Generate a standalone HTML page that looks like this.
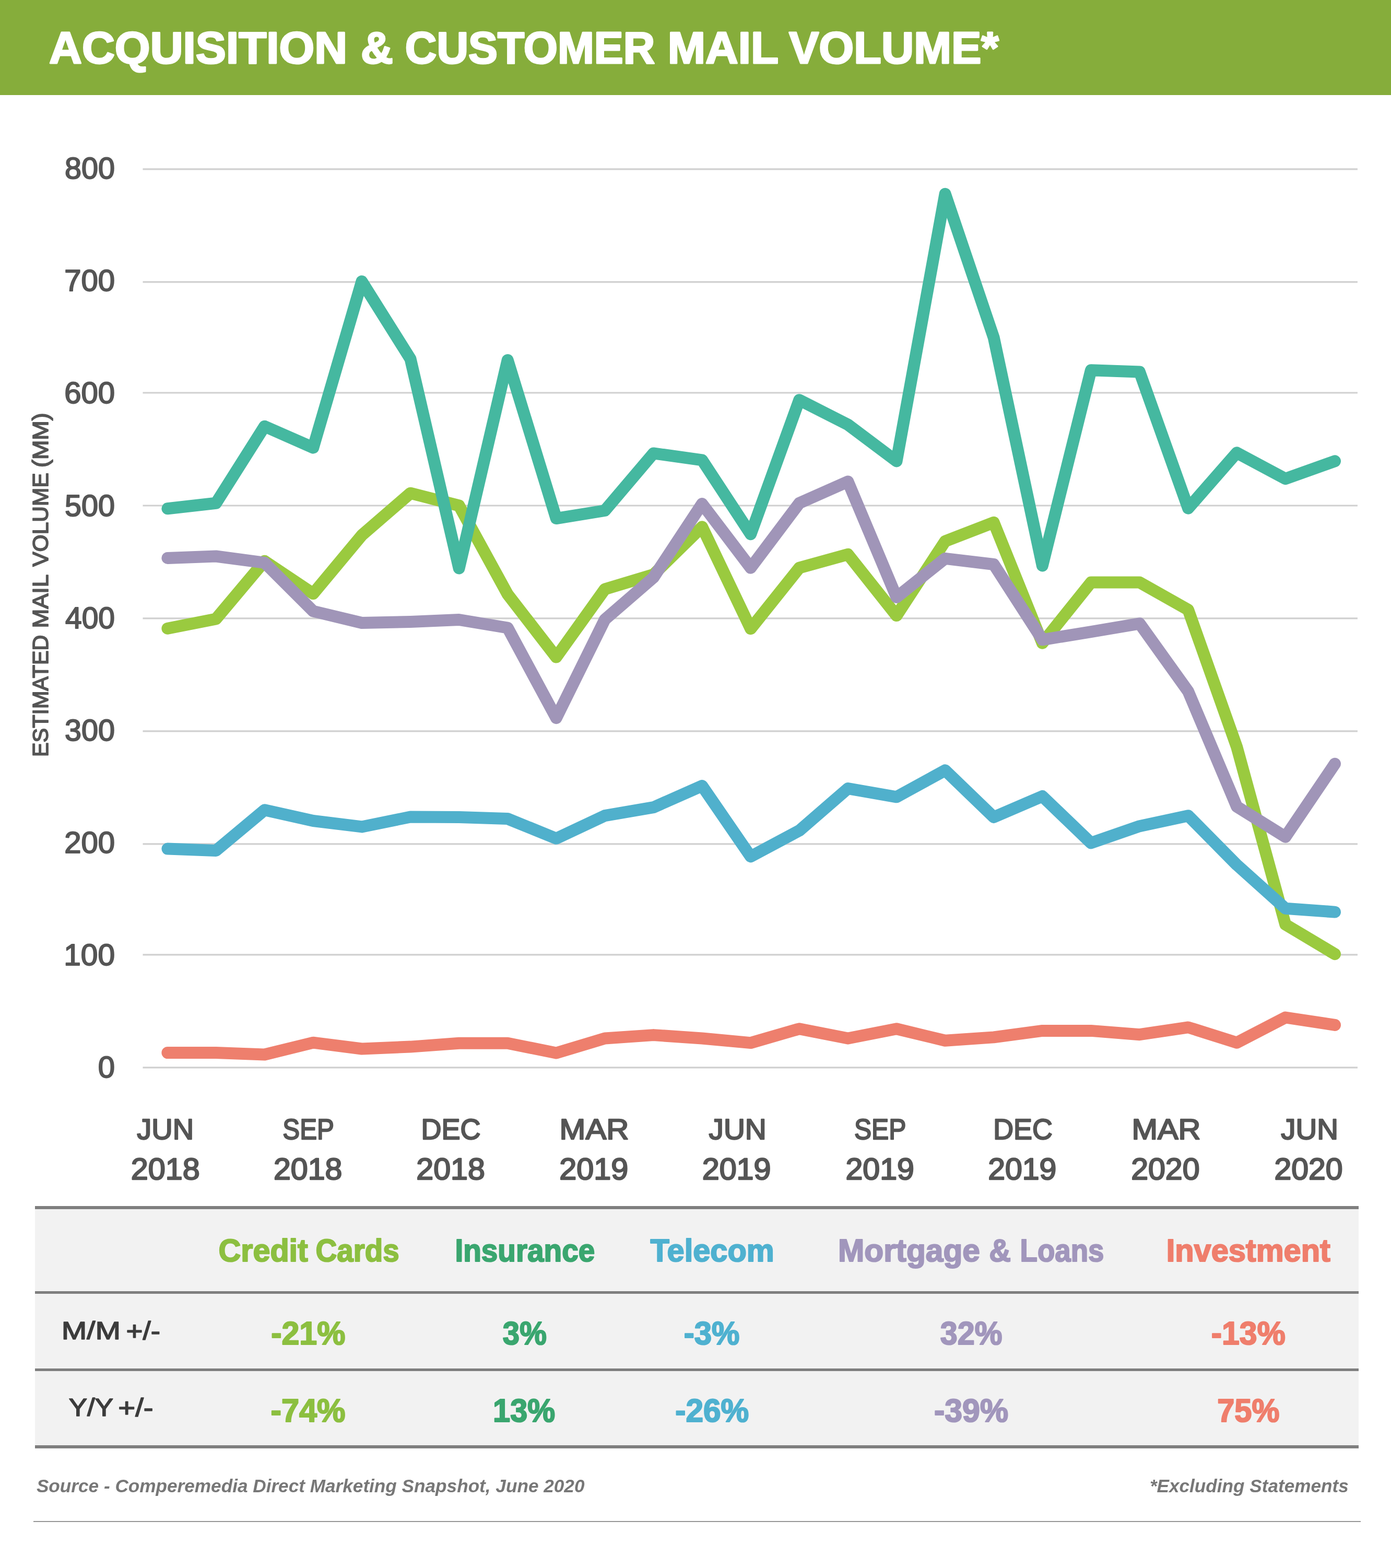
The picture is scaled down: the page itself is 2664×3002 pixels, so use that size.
<!DOCTYPE html>
<html lang="en"><head><meta charset="utf-8">
<meta name="viewport" content="width=2664">
<title>Acquisition &amp; Customer Mail Volume</title>
<style>
html,body{margin:0;padding:0;background:#fff}
body{width:2664px;height:3002px;position:relative;overflow:hidden;font-family:"Liberation Sans", sans-serif;font-weight:bold}
svg{position:absolute;left:0;top:0;overflow:visible}
svg text{font-family:"Liberation Sans", sans-serif;font-weight:bold;white-space:pre}
header{position:absolute;left:0;top:0;width:2664px;height:182px;background:#86ad3b}
#chart{position:absolute;left:0;top:0;width:2664px;height:2300px}
.ln{fill:none;stroke-width:23;stroke-linejoin:round;stroke-linecap:round}
.grid line{stroke:#d0d0d0;stroke-width:3.2}
#tbl{position:absolute;left:66.6px;top:2309px;width:2535.8px;height:463px;background:linear-gradient(#f2f2f2,#f2f2f2) 0 2px/100% 460px no-repeat}
#tbl .rule{position:absolute;left:0;width:100%;height:5.4px;background:#7f7f7f}
#tbl svg{left:-67px;top:-2309px}
footer{position:absolute;left:0;top:2780px;width:2664px;height:222px}
footer svg{top:-2780px}
footer .rule{position:absolute;left:64px;top:131.8px;width:2541.8px;height:2px;background:#969696}

header text{fill:#fff;stroke:#fff;stroke-width:3.0px;stroke-linejoin:round;}
.ylab text{fill:#555;font-weight:normal;stroke:#555;stroke-width:2.0px;stroke-linejoin:round;}
.xlab text{fill:#555;font-weight:normal;stroke:#555;stroke-width:2.4px;stroke-linejoin:round;}
.ytitle text{fill:#555;font-weight:normal;stroke:#555;stroke-width:1.8px;stroke-linejoin:round;}
.th text{fill:#8cbf40;stroke:#8cbf40;stroke-width:2.2px;stroke-linejoin:round;}
.rl text{fill:#3c3c3c;font-weight:normal;stroke:#3c3c3c;stroke-width:1.6px;stroke-linejoin:round;}
.td text{fill:#8cbf40;stroke:#8cbf40;stroke-width:2.2px;stroke-linejoin:round;}
footer text{fill:#777;font-style:italic;}
svg text.c0{fill:#8cbf40;stroke:#8cbf40}
svg text.c1{fill:#3aa66f;stroke:#3aa66f}
svg text.c2{fill:#4fb1d0;stroke:#4fb1d0}
svg text.c3{fill:#a196bc;stroke:#a196bc}
svg text.c4{fill:#ef7e6c;stroke:#ef7e6c}
</style></head><body>
<header role="banner" aria-label="ACQUISITION &amp; CUSTOMER MAIL VOLUME*">
<svg width="2664" height="3002" viewBox="0 0 2664 3002">
<text font-size="84.88" transform="translate(93.98 120.60) scale(1.0269 1)">ACQUISITION</text>
<text font-size="84.88" transform="translate(690.94 120.60) scale(1.0095 1)">&amp;</text>
<text font-size="84.88" transform="translate(775.86 120.60) scale(0.9886 1)">CUSTOMER</text>
<text font-size="84.88" transform="translate(1278.70 120.60) scale(1.0241 1)">MAIL</text>
<text font-size="84.88" transform="translate(1510.92 120.60) scale(1.0148 1)">VOLUME*</text>
</svg></header>
<section id="chart">
<svg width="2664" height="3002" viewBox="0 0 2664 3002">
<g class="grid">
<line x1="273.5" x2="2599.9" y1="2043.90" y2="2043.90"/>
<line x1="273.5" x2="2599.9" y1="1827.90" y2="1827.90"/>
<line x1="273.5" x2="2599.9" y1="1615.80" y2="1615.80"/>
<line x1="273.5" x2="2599.9" y1="1399.80" y2="1399.80"/>
<line x1="273.5" x2="2599.9" y1="1183.90" y2="1183.90"/>
<line x1="273.5" x2="2599.9" y1="968.00" y2="968.00"/>
<line x1="273.5" x2="2599.9" y1="752.00" y2="752.00"/>
<line x1="273.5" x2="2599.9" y1="539.90" y2="539.90"/>
<line x1="273.5" x2="2599.9" y1="323.90" y2="323.90"/>
</g>
<g class="series">
<polyline class="ln" stroke="#9aca3f" points="320.9,1203.2 413.6,1185.0 506.7,1074.2 599.8,1136.6 692.9,1024.8 786.0,944.2 879.1,968.0 972.2,1137.7 1065.3,1258.1 1158.4,1128.0 1251.5,1100.1 1344.6,1008.7 1437.7,1203.7 1530.8,1087.2 1623.9,1061.4 1717.0,1178.6 1810.1,1036.2 1903.2,1000.3 1996.3,1231.2 2089.4,1115.1 2182.5,1115.1 2275.6,1167.6 2368.7,1430.1 2461.8,1770.0 2556.5,1826.6"><title>Credit Cards</title></polyline>
<polyline class="ln" stroke="#45b8a0" points="320.9,973.8 413.6,963.3 506.7,816.2 599.8,857.1 692.9,538.9 786.0,687.2 879.1,1088.0 972.2,689.4 1065.3,992.6 1158.4,977.5 1251.5,867.9 1344.6,880.8 1437.7,1022.7 1530.8,765.7 1623.9,813.0 1717.0,882.9 1810.1,371.2 1903.2,646.4 1996.3,1082.9 2089.4,708.8 2182.5,712.0 2275.6,973.2 2368.7,866.8 2461.8,916.7 2556.5,882.9"><title>Insurance</title></polyline>
<polyline class="ln" stroke="#50b0cc" points="320.9,1625.1 413.6,1628.5 506.7,1550.7 599.8,1571.5 692.9,1582.9 786.0,1564.0 879.1,1564.5 972.2,1567.5 1065.3,1605.3 1158.4,1561.7 1251.5,1545.7 1344.6,1504.5 1437.7,1639.9 1530.8,1590.2 1623.9,1509.6 1717.0,1525.8 1810.1,1474.8 1903.2,1564.5 1996.3,1524.5 2089.4,1613.9 2182.5,1581.7 2275.6,1561.7 2368.7,1655.8 2461.8,1739.2 2556.5,1746.1"><title>Telecom</title></polyline>
<polyline class="ln" stroke="#a095b8" points="320.9,1068.4 413.6,1065.0 506.7,1077.3 599.8,1170.1 692.9,1192.5 786.0,1190.4 879.1,1186.5 972.2,1202.0 1065.3,1374.6 1158.4,1186.1 1251.5,1105.6 1344.6,964.6 1437.7,1087.2 1530.8,963.3 1623.9,922.0 1717.0,1143.4 1810.1,1069.3 1903.2,1080.5 1996.3,1224.8 2089.4,1209.7 2182.5,1193.8 2275.6,1323.7 2368.7,1544.2 2461.8,1602.3 2556.5,1462.3"><title>Mortgage &amp; Loans</title></polyline>
<polyline class="ln" stroke="#ee7f6d" points="320.9,2015.5 413.6,2015.5 506.7,2019.0 599.8,1996.2 692.9,2008.0 786.0,2004.1 879.1,1997.2 972.2,1997.2 1065.3,2016.0 1158.4,1988.0 1251.5,1981.6 1344.6,1988.0 1437.7,1996.6 1530.8,1969.7 1623.9,1988.0 1717.0,1969.7 1810.1,1992.3 1903.2,1985.9 1996.3,1973.4 2089.4,1973.4 2182.5,1980.7 2275.6,1966.9 2368.7,1996.2 2461.8,1948.0 2556.5,1962.4"><title>Investment</title></polyline>
</g>
<g class="ytitle">
<text font-size="42.44" transform="translate(92.40 1448.95) rotate(-90) scale(0.9741 1)">ESTIMATED</text>
<text font-size="42.44" transform="translate(92.40 1202.51) rotate(-90) scale(1.0385 1)">MAIL</text>
<text font-size="42.44" transform="translate(92.40 1084.80) rotate(-90) scale(1.0025 1)">VOLUME</text>
<text font-size="42.44" transform="translate(92.40 894.95) rotate(-90) scale(1.0570 1)">(MM)</text>
</g>
<g class="ylab">
<text font-size="57.27" transform="translate(187.80 2063.30) scale(1.0120 1)">0</text>
<text font-size="57.27" transform="translate(122.26 1848.15) scale(1.0233 1)">100</text>
<text font-size="57.27" transform="translate(123.19 1633.00) scale(1.0135 1)">200</text>
<text font-size="57.27" transform="translate(124.11 1417.85) scale(1.0039 1)">300</text>
<text font-size="57.27" transform="translate(125.00 1202.70) scale(0.9945 1)">400</text>
<text font-size="57.27" transform="translate(124.11 987.55) scale(1.0039 1)">500</text>
<text font-size="57.27" transform="translate(123.19 772.40) scale(1.0135 1)">600</text>
<text font-size="57.27" transform="translate(123.19 557.25) scale(1.0135 1)">700</text>
<text font-size="57.27" transform="translate(124.11 342.10) scale(1.0039 1)">800</text>
</g>
<g class="xlab">
<text font-size="56.10" transform="translate(262.32 2180.50) scale(0.9987 1)">JUN</text>
<text font-size="57.56" transform="translate(250.76 2258.40) scale(1.0302 1)">2018</text>
<text font-size="56.10" transform="translate(541.31 2180.50) scale(0.8774 1)">SEP</text>
<text font-size="57.56" transform="translate(523.96 2258.40) scale(1.0262 1)">2018</text>
<text font-size="56.10" transform="translate(806.44 2180.50) scale(0.9622 1)">DEC</text>
<text font-size="57.56" transform="translate(797.36 2258.40) scale(1.0270 1)">2018</text>
<text font-size="56.10" transform="translate(1071.61 2180.50) scale(1.0659 1)">MAR</text>
<text font-size="57.56" transform="translate(1071.26 2258.40) scale(1.0302 1)">2019</text>
<text font-size="56.10" transform="translate(1357.53 2180.50) scale(1.0110 1)">JUN</text>
<text font-size="57.56" transform="translate(1344.66 2258.40) scale(1.0302 1)">2019</text>
<text font-size="56.10" transform="translate(1635.91 2180.50) scale(0.8855 1)">SEP</text>
<text font-size="57.56" transform="translate(1619.46 2258.40) scale(1.0262 1)">2019</text>
<text font-size="56.10" transform="translate(1902.25 2180.50) scale(0.9587 1)">DEC</text>
<text font-size="57.56" transform="translate(1892.27 2258.40) scale(1.0230 1)">2019</text>
<text font-size="56.10" transform="translate(2167.43 2180.50) scale(1.0593 1)">MAR</text>
<text font-size="57.56" transform="translate(2166.16 2258.40) scale(1.0260 1)">2020</text>
<text font-size="56.10" transform="translate(2453.33 2180.50) scale(1.0063 1)">JUN</text>
<text font-size="57.56" transform="translate(2440.47 2258.40) scale(1.0229 1)">2020</text>
</g>
</svg>
</section>
<section id="tbl">
<div class="rule" style="top:0.2px"></div>
<div class="rule" style="top:162.9px"></div>
<div class="rule" style="top:310.6px"></div>
<div class="rule" style="top:458.4px"></div>
<svg width="2664" height="3002" viewBox="0 0 2664 3002">
<g class="th">
<text class="c0" font-size="60.86" transform="translate(418.52 2415.30) scale(0.9742 1)">Credit</text>
<text class="c0" font-size="60.86" transform="translate(604.56 2415.30) scale(0.9287 1)">Cards</text>
<text class="c1" font-size="60.86" transform="translate(871.48 2415.30) scale(0.9311 1)">Insurance</text>
<text class="c2" font-size="60.86" transform="translate(1245.58 2415.30) scale(0.9785 1)">Telecom</text>
<text class="c3" font-size="60.86" transform="translate(1605.01 2415.30) scale(0.9931 1)">Mortgage</text>
<text class="c3" font-size="60.86" transform="translate(1894.24 2415.30) scale(0.9515 1)">&amp;</text>
<text class="c3" font-size="60.86" transform="translate(1953.57 2415.30) scale(0.8975 1)">Loans</text>
<text class="c4" font-size="60.86" transform="translate(2233.65 2415.30) scale(0.9784 1)">Investment</text>
</g>
<g class="rl">
<text font-size="48.40" transform="translate(117.71 2563.70) scale(1.2049 1)">M/M</text>
<text font-size="49.70" transform="translate(241.61 2564.50) scale(1.1028 1)">+/-</text>
<text font-size="47.97" transform="translate(131.76 2711.00) scale(1.1024 1)">Y/Y</text>
<text font-size="49.70" transform="translate(226.26 2711.80) scale(1.1344 1)">+/-</text>
</g>
<g class="td">
<text class="c0" font-size="62.75" transform="translate(519.16 2573.50) scale(0.9709 1)">-21%</text>
<text class="c1" font-size="62.75" transform="translate(962.81 2573.50) scale(0.9261 1)">3%</text>
<text class="c2" font-size="62.75" transform="translate(1309.68 2573.50) scale(0.9573 1)">-3%</text>
<text class="c3" font-size="62.75" transform="translate(1800.81 2573.50) scale(0.9458 1)">32%</text>
<text class="c4" font-size="62.75" transform="translate(2319.77 2573.50) scale(0.9696 1)">-13%</text>
<text class="c0" font-size="62.75" transform="translate(518.56 2721.50) scale(0.9764 1)">-74%</text>
<text class="c1" font-size="62.75" transform="translate(944.12 2721.50) scale(0.9481 1)">13%</text>
<text class="c2" font-size="62.75" transform="translate(1293.27 2721.50) scale(0.9627 1)">-26%</text>
<text class="c3" font-size="62.75" transform="translate(1788.97 2721.50) scale(0.9696 1)">-39%</text>
<text class="c4" font-size="62.75" transform="translate(2331.18 2721.50) scale(0.9492 1)">75%</text>
</g>
</svg>
</section>
<footer>
<svg width="2664" height="3002" viewBox="0 0 2664 3002">
<text font-size="34.18" transform="translate(69.90 2857.07) scale(1.0294 1)">Source - Comperemedia Direct Marketing Snapshot, June 2020</text>
<text font-size="34.18" transform="translate(2201.90 2857.07) scale(1.0286 1)">*Excluding Statements</text>
</svg>
<div class="rule"></div>
</footer>
</body></html>
